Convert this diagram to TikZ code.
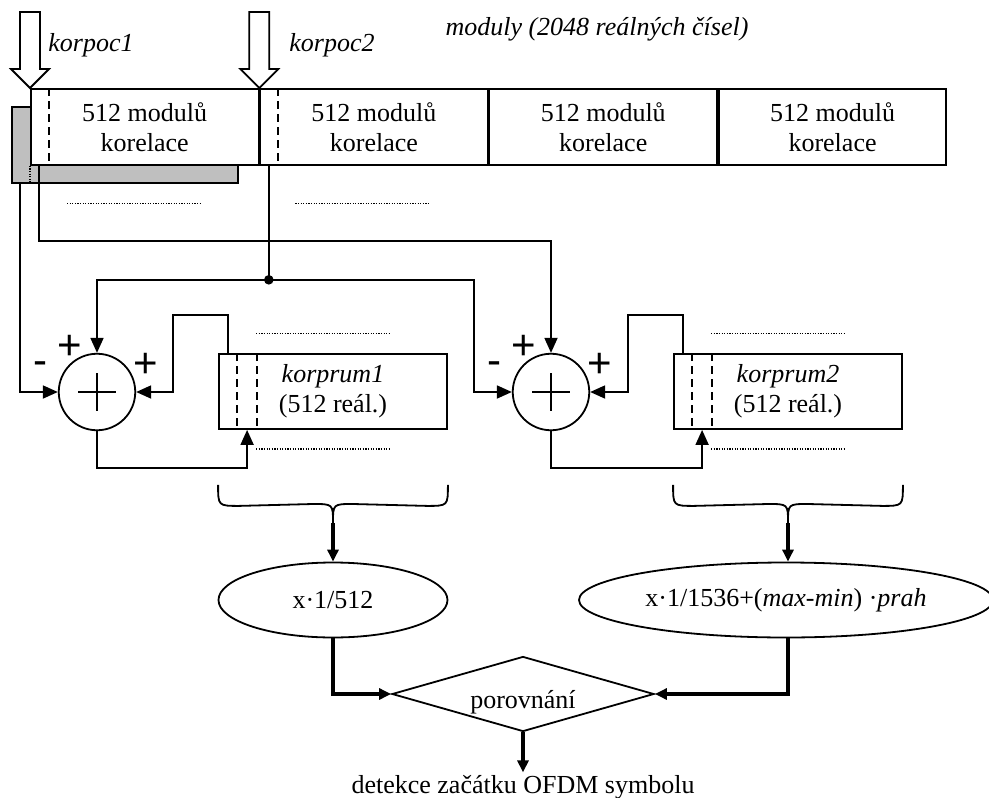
\documentclass[tikz,border=0pt]{standalone}
\usepackage{fontspec}
\setmainfont{Liberation Serif}
\newfontfamily\signfont{Liberation Sans}
\usetikzlibrary{arrows.meta,shapes.geometric,calc}

\begin{document}
\begin{tikzpicture}[x=1pt,y=-1pt,line width=1.8pt,
  font=\fontsize{26}{30}\selectfont,
  cell/.style={draw,fill=white,minimum width=227.5pt,minimum height=76pt,inner sep=0pt,align=center,anchor=north west},
  membox/.style={draw,fill=white,minimum width=228pt,minimum height=75pt,inner sep=0pt,align=center},
  adder/.style={circle,draw,minimum size=76.5pt,inner sep=0pt},
  oval/.style={ellipse,draw,inner sep=0pt,minimum height=75pt},
  cmpbox/.style={diamond,draw,inner sep=0pt,minimum width=262pt,minimum height=75pt},
  hollow/.style={draw,fill=white,line join=miter},
  arr/.style={-{Triangle[length=15pt,width=13pt]}},
  fatarr/.style={line width=4pt,-{Triangle[length=12pt,width=11pt]}},
  dots/.style={line width=1.2pt,dash pattern=on 1.2pt off 1.4pt},
  cut/.style={dashed,dash pattern=on 8pt off 5pt},
  sign/.style={font=\signfont\fontsize{42}{42}\selectfont,inner sep=0pt,anchor=base}]

\useasboundingbox (0,0) rectangle (989,798);

% header labels
\node (hdr) at (597,29) {\itshape moduly (2048 reálných čísel)};
\node (lp1) at (91,45) {\itshape korpoc1};
\node (lp2) at (332,45) {\itshape korpoc2};

% grey block behind the first cell
\node[draw,fill=black!25,minimum width=226pt,minimum height=76pt,inner sep=0pt] (shadow) at (125,145) {};

% row of correlation magnitudes
\node[cell] (c1) at (30,88) {512 modulů\\korelace};
\node[cell] (c2) at (c1.north east) {512 modulů\\korelace};
\node[cell] (c3) at (c2.north east) {512 modulů\\korelace};
\node[cell] (c4) at (c3.north east) {512 modulů\\korelace};

\draw[cut] ($(c1.north west)+(19,0)$) -- ($(c1.south west)+(19,0)$);
\draw[cut] ($(c2.north west)+(18.5,0)$) -- ($(c2.south west)+(18.5,0)$);
\draw[dots] (c1.south west) -- (c1.south west |- shadow.south);

% pointer arrows
\draw[hollow] (20,12) -- (40,12) -- (40,69) -- (49,69) -- (c1.north west) -- (11,69) -- (20,69) -- cycle;
\draw[hollow] ($(c2.north west)+(-10,-76)$) -- ($(c2.north west)+(10,-76)$) -- ($(c2.north west)+(10,-19)$)
  -- ($(c2.north west)+(19,-19)$) -- (c2.north west) -- ($(c2.north west)+(-19,-19)$)
  -- ($(c2.north west)+(-10,-19)$) -- cycle;

% dotted continuation marks
\draw[dots] ($(c1.south west)+(37,38)$) -- ($(c1.south west)+(172,38)$);
\draw[dots] ($(c2.south west)+(36,38)$) -- ($(c2.south west)+(171,38)$);

% adders
\node[adder] (s1) at (97,392) {};
\node[adder] (s2) at (551,392) {};
\foreach \s in {s1,s2}{
  \draw ($(\s)+(-19,0)$) -- ($(\s)+(19,0)$);
  \draw ($(\s)+(0,-19)$) -- ($(\s)+(0,19)$);
  \node[sign] at ($(\s)+(-57,-18)$) {-};
  \node[sign] at ($(\s)+(-27,-33)$) {+};
  \node[sign] at ($(\s)+(49,-15)$) {+};
}

% running sums
\node[membox] (m1) at (333,391.5) {\itshape korprum1\\(512 reál.)};
\node[membox] (m2) at (788,391.5) {\itshape korprum2\\(512 reál.)};
\foreach \m in {m1,m2}{
  \draw[cut] ($(\m.north west)+(19,0)$) -- ($(\m.south west)+(19,0)$);
  \draw[cut] ($(\m.north west)+(38.5,0)$) -- ($(\m.south west)+(38.5,0)$);
  \draw[dots] ($(\m.north west)+(38,-20)$) -- ($(\m.north west)+(172,-20)$);
  \draw[dots] ($(\m.south west)+(38,19)$) -- ($(\m.south west)+(172,19)$);
}

% inputs of the adders
\coordinate (j) at ($(c2.south west)+(9.5,114)$);
\draw ($(c2.south west)+(9.5,0)$) -- (j);
\fill (j) circle (4.8pt);
\draw[arr] (j) -| (s1.north);
\draw[arr] (j) -| ($(s2.west)+(-38,0)$) -- (s2.west);
\draw[arr] ($(c1.south west)+(9,0)$) -- ($(c1.south west)+(9,75)$) -| (s2.north);
\draw[arr] ($(shadow.south west)+(9,0)$) |- (s1.west);

% feedback loops
\draw[arr] ($(m1.north west)+(10,0)$) -- ++(0,-38) -| ($(s1.east)+(37,0)$) -- (s1.east);
\draw[arr] ($(m2.north west)+(10,0)$) -- ++(0,-38) -| ($(s2.east)+(38,0)$) -- (s2.east);
\draw[arr] (s1.south) -- ++(0,37) -| ($(m1.south west)+(29,0)$);
\draw[arr] (s2.south) -- ++(0,37) -| ($(m2.south west)+(29,0)$);

% braces
\coordinate (t1) at (333,523);
\coordinate (t2) at (788,523);
\foreach \m/\t in {m1/t1,m2/t2}{
  \draw ($(\m.south west)+(0,55)$) .. controls ($(\m.south west)+(0,76)$) .. ($(\m.south west)+(21,76)$)
    -- ($(\t)+(-20,-19)$) .. controls ($(\t)+(0,-19)$) .. (\t);
  \draw ($(\m.south east)+(0,55)$) .. controls ($(\m.south east)+(0,76)$) .. ($(\m.south east)+(-21,76)$)
    -- ($(\t)+(20,-19)$) .. controls ($(\t)+(0,-19)$) .. (\t);
}

% averaging and threshold
\node[oval,minimum width=229pt] (e1) at (333,600) {x·1/512};
\node[oval,minimum width=414pt] (e2) at (786,600) {x·1/1536+(\textit{max-min}) ·\textit{prah}};
\draw[fatarr] (t1) -- (t1 |- e1.north);
\draw[fatarr] (t2) -- (t2 |- e2.north);

% comparison
\node[cmpbox] (d) at (523,694) {};
\node (dl) at (523,702) {porovnání};
\draw[fatarr] (e1.south) |- (d.west);
\draw[fatarr] (e2.south -| t2) |- (d.east);
\node (out) at (523,787) {detekce začátku OFDM symbolu};
\draw[fatarr] (d.south) -- ($(d.south)+(0,40)$);
\end{tikzpicture}
\end{document}
